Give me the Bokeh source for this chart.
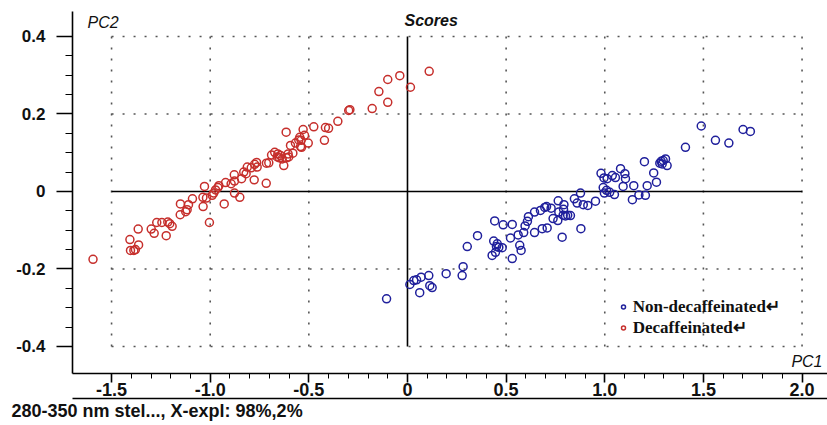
from bokeh.plotting import figure
from bokeh.models import (ColumnDataSource, FixedTicker, LinearAxis, Legend, LegendItem,
                          Label, Title, Range1d)
from bokeh.embed import file_html
from bokeh.resources import INLINE

# ---------------- data ----------------
decaf_pc1 = [-1.594, -1.404, -1.387, -1.379, -1.363, -1.407, -1.365, -1.299, -1.284, -1.223,
             -1.271, -1.245, -1.215, -1.205, -1.193, -1.152, -1.151, -1.124, -1.117, -1.110,
             -1.090, -1.036, -1.029, -1.037, -1.019, -1.004, -0.990, -0.982, -0.973, -0.956,
             -0.961, -0.929, -0.922, -0.894, -0.877, -0.878, -0.877, -0.850, -0.841, -0.830,
             -0.818, -0.812, -0.792, -0.777, -0.775, -0.765, -0.762, -0.716, -0.715, -0.703,
             -0.689, -0.673, -0.660, -0.657, -0.649, -0.644, -0.635, -0.627, -0.613, -0.605,
             -0.602, -0.581, -0.615, -0.593, -0.568, -0.551, -0.546, -0.539, -0.529, -0.522,
             -0.542, -0.537, -0.503, -0.475, -0.421, -0.416, -0.400, -0.353, -0.298, -0.292,
             -0.179, -0.145, -0.100, -0.100, -0.039, 0.015, 0.110]
decaf_pc2 = [-0.175, -0.152, -0.152, -0.150, -0.138, -0.124, -0.097, -0.097, -0.108, -0.114,
             -0.080, -0.080, -0.079, -0.083, -0.090, -0.060, -0.032, -0.052, -0.047, -0.034,
             -0.019, -0.039, 0.013, -0.015, -0.017, -0.080, -0.010, -0.004, 0.004, 0.015,
             0.010, -0.032, 0.023, 0.020, 0.027, 0.043, -0.004, -0.015, 0.033, 0.050,
             0.046, 0.063, 0.061, 0.030, 0.070, 0.075, 0.063, 0.021, 0.073, 0.074,
             0.094, 0.101, 0.089, 0.097, 0.087, 0.093, 0.084, 0.067, 0.087, 0.097,
             0.089, 0.099, 0.153, 0.119, 0.125, 0.133, 0.140, 0.132, 0.160, 0.145,
             0.116, 0.114, 0.125, 0.167, 0.132, 0.165, 0.163, 0.181, 0.209, 0.211,
             0.214, 0.258, 0.230, 0.289, 0.299, 0.269, 0.310]

nondecaf_pc1 = [-0.106, 0.012, 0.032, 0.046, 0.069, 0.108, 0.062, 0.113, 0.125, 0.196,
                0.277, 0.282, 0.303, 0.355, 0.429, 0.446, 0.437, 0.451, 0.463, 0.480,
                0.455, 0.442, 0.485, 0.531, 0.522, 0.561, 0.589, 0.531, 0.569, 0.576,
                0.608, 0.613, 0.596, 0.644, 0.683, 0.708, 0.644, 0.674, 0.696, 0.705,
                0.728, 0.764, 0.767, 0.793, 0.791, 0.738, 0.762, 0.789, 0.801, 0.812,
                0.826, 0.784, 0.846, 0.877, 0.860, 0.891, 0.914, 0.953, 0.879, 0.981,
                0.996, 1.012, 1.038, 1.054, 1.080, 1.102, 1.105, 0.992, 1.009, 0.998,
                1.025, 1.049, 1.093, 1.147, 1.140, 1.173, 1.206, 1.215, 1.201, 1.248,
                1.262, 1.279, 1.286, 1.296, 1.308, 1.316, 1.291, 1.409, 1.489, 1.561,
                1.629, 1.701, 1.738]
nondecaf_pc2 = [-0.277, -0.240, -0.230, -0.228, -0.221, -0.217, -0.261, -0.243, -0.248, -0.212,
                -0.217, -0.194, -0.142, -0.114, -0.165, -0.157, -0.128, -0.142, -0.144, -0.145,
                -0.135, -0.076, -0.086, -0.085, -0.120, -0.112, -0.106, -0.173, -0.139, -0.152,
                -0.077, -0.065, -0.089, -0.106, -0.096, -0.094, -0.053, -0.049, -0.041, -0.039,
                -0.043, -0.024, -0.053, -0.034, -0.046, -0.070, -0.075, -0.061, -0.063, -0.061,
                -0.062, -0.118, -0.019, -0.004, -0.030, -0.034, -0.036, -0.025, -0.096, 0.047,
                0.035, 0.033, 0.041, 0.036, 0.059, 0.046, 0.033, 0.010, 0.003, -0.004,
                -0.002, -0.008, 0.013, 0.015, -0.021, -0.009, -0.010, 0.015, 0.077, 0.048,
                0.024, 0.073, 0.078, 0.080, 0.084, 0.067, 0.071, 0.114, 0.169, 0.132,
                0.125, 0.160, 0.155]

x_ticks = [-1.5, -1.0, -0.5, 0.0, 0.5, 1.0, 1.5, 2.0]
x_tick_labels = ["-1.5", "-1.0", "-0.5", "0", "0.5", "1.0", "1.5", "2.0"]
y_ticks = [-0.4, -0.2, 0.0, 0.2, 0.4]
y_tick_labels = ["-0.4", "-0.2", "0", "0.2", "0.4"]
x_minor = [round(-1.5 + 0.1 * i, 2) for i in range(36)]
y_minor = [round(-0.4 + 0.05 * i, 3) for i in range(17)]

title_text = "Scores"
x_name = "PC1"
y_name = "PC2"
footer_text = "280-350 nm stel..., X-expl: 98%,2%"
series_names = ["Non-decaffeinated\u21b5", "Decaffeinated\u21b5"]

RED = "#c62f2c"
BLUE = "#20209c"
FONT = "Liberation Sans"

# ---------------- figure ----------------
p = figure(width=827, height=425, output_backend="svg", toolbar_location=None,
           x_range=Range1d(-1.698, 2.129), y_range=Range1d(-0.4697, 0.4645),
           min_border_left=72, min_border_right=0, min_border_top=11, min_border_bottom=52,
           title=None)
p.outline_line_color = None
p.xgrid.visible = False
p.ygrid.visible = False
p.background_fill_color = "white"
p.border_fill_color = "white"

# dotted grid limited to the tick span
gx = [t for t in x_ticks if t != 0.0]
gy = [t for t in y_ticks if t != 0.0]
p.segment(x0=gx, y0=[min(y_ticks)] * len(gx), x1=gx, y1=[max(y_ticks)] * len(gx),
          line_color="#555555", line_width=1.6, line_dash="2 9")
p.segment(x0=[min(x_ticks)] * len(gy), y0=gy, x1=[max(x_ticks)] * len(gy), y1=gy,
          line_color="#555555", line_width=1.6, line_dash="2 9")
# solid zero lines
p.segment(x0=[0.0, min(x_ticks)], y0=[min(y_ticks), 0.0], x1=[0.0, max(x_ticks)], y1=[max(y_ticks), 0.0],
          line_color="black", line_width=1.6)

src_b = ColumnDataSource(dict(x=nondecaf_pc1, y=nondecaf_pc2))
src_r = ColumnDataSource(dict(x=decaf_pc1, y=decaf_pc2))
rb = p.scatter("x", "y", source=src_b, marker="circle", size=8, fill_color=None,
               line_color=BLUE, line_width=1.5)
rr = p.scatter("x", "y", source=src_r, marker="circle", size=8, fill_color=None,
               line_color=RED, line_width=1.5)

# ---------------- axes ----------------
xa = p.xaxis[0]
xa.ticker = FixedTicker(ticks=x_ticks, minor_ticks=x_minor)
xa.major_label_overrides = dict(zip(x_ticks, x_tick_labels))
xa.axis_line_width = 1.6
xa.major_tick_out = 9
xa.major_tick_in = 0
xa.minor_tick_out = 5
xa.minor_tick_in = 0
xa.major_tick_line_width = 1.6
xa.major_label_standoff = 0
xa.major_label_text_font = FONT
xa.major_label_text_font_style = "bold"
xa.major_label_text_font_size = "18px"
xa.major_label_text_color = "#111111"

ya = p.yaxis[0]
ya.ticker = FixedTicker(ticks=y_ticks, minor_ticks=y_minor)
ya.major_label_overrides = dict(zip(y_ticks, y_tick_labels))
ya.axis_line_width = 1.6
ya.major_tick_out = 16
ya.major_tick_in = 0
ya.minor_tick_out = 7
ya.minor_tick_in = 0
ya.major_tick_line_width = 1.6
ya.major_label_standoff = 11
ya.major_label_text_font = FONT
ya.major_label_text_font_style = "bold"
ya.major_label_text_font_size = "17px"
ya.major_label_text_color = "#111111"

ax2 = LinearAxis(ticker=FixedTicker(ticks=[]), axis_line_width=1.6,
                 major_tick_out=0, major_tick_in=0, minor_tick_out=0, minor_tick_in=0)
p.add_layout(ax2, "below")

footer = Title(text=footer_text, align="left", offset=-61, standoff=0,
               text_font=FONT, text_font_size="18px", text_font_style="bold",
               text_color="#111111")
p.add_layout(footer, "below")

# ---------------- labels ----------------
p.add_layout(Label(x=-1.622, y=0.435, text=y_name, text_font=FONT, text_font_size="16px",
                   text_font_style="italic", text_baseline="middle", text_color="#111111"))
p.add_layout(Label(x=1.946, y=-0.439, text=x_name, text_font=FONT, text_font_size="16px",
                   text_font_style="italic", text_baseline="middle", text_color="#111111"))
p.add_layout(Label(x=-0.015, y=0.440, text=title_text, text_font=FONT, text_font_size="16px",
                   text_font_style="bold italic", text_baseline="middle", text_color="#111111"))

legend = Legend(items=[LegendItem(label=series_names[0], renderers=[rb]),
                       LegendItem(label=series_names[1], renderers=[rr])],
                location=(545.7, 35.5), background_fill_alpha=0, border_line_color=None,
                padding=0, spacing=0, margin=0, glyph_width=10, glyph_height=19,
                label_height=19, label_standoff=5, label_text_font="Liberation Serif",
                label_text_font_style="bold", label_text_font_size="17px",
                label_text_baseline="middle", label_text_color="#111111")
p.add_layout(legend)

open("out.html", "w").write(file_html(p, INLINE))
